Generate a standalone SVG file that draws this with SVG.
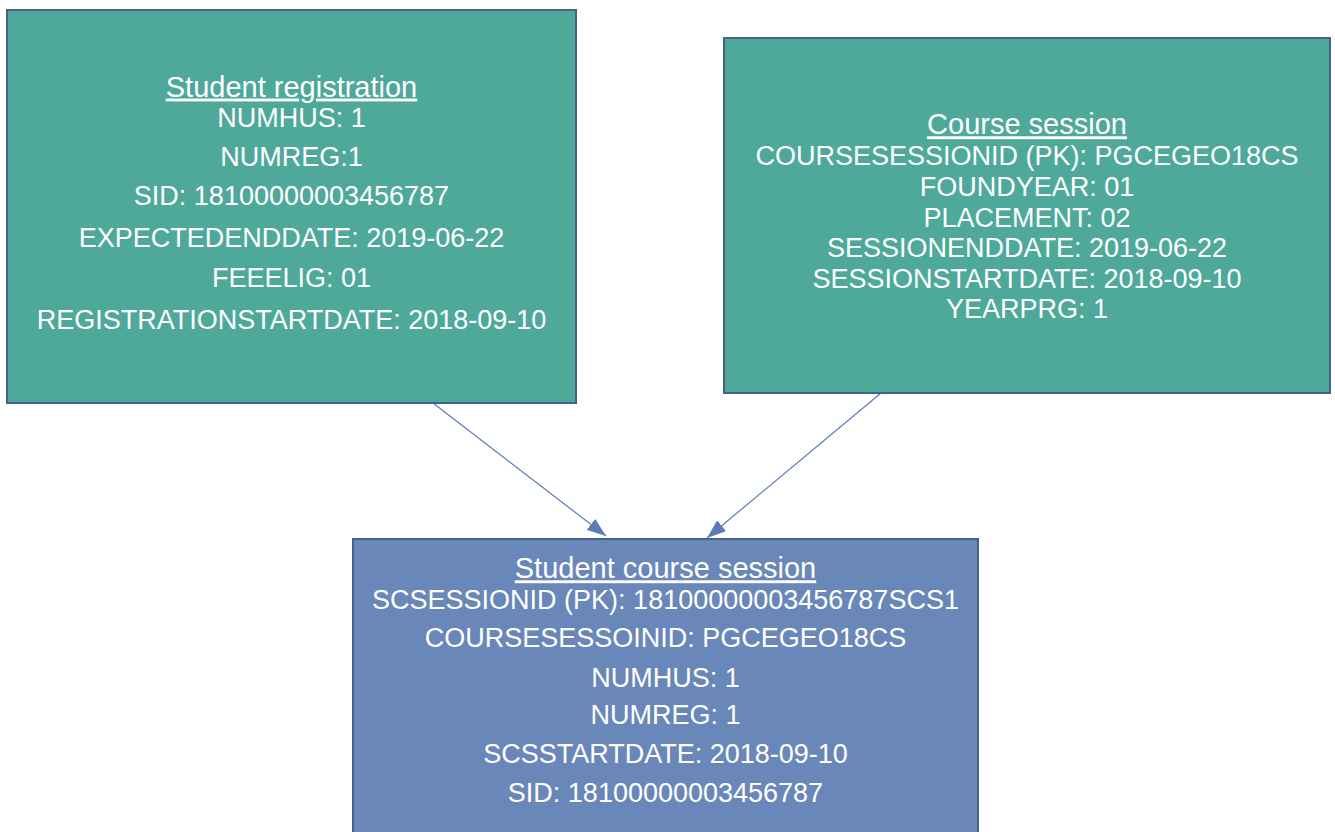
<svg xmlns="http://www.w3.org/2000/svg" width="1335" height="832" viewBox="0 0 1335 832">
<style>
.box{stroke:#46618a;stroke-width:2}
.teal{fill:#4ea99a}
.blue{fill:#6a87b9}
text{font-family:"Liberation Sans",Arial,sans-serif;fill:#ffffff;text-anchor:middle}
.t{font-size:29px;text-decoration:underline}
.b{font-size:27px}
.conn{stroke:#5b7bb6;stroke-width:1.2;fill:none}
</style>
<defs>
<marker id="arr" markerUnits="userSpaceOnUse" markerWidth="20" markerHeight="14" refX="19" refY="7" orient="auto">
<path d="M0,0 L19,7 L0,14 Z" fill="#5b7bb6"/>
</marker>
</defs>
<rect width="1335" height="832" fill="#ffffff"/>
<g id="connectors">
<line class="conn" x1="433" y1="403" x2="606" y2="536" marker-end="url(#arr)"/>
<line class="conn" x1="881" y1="393" x2="707" y2="538" marker-end="url(#arr)"/>
</g>
<g id="student-registration">
<rect class="box teal" x="7" y="10" width="569" height="393"/>
<text class="t" x="291.5" y="96.5">Student registration</text>
<text class="b" x="291.5" y="126.7">NUMHUS: 1</text>
<text class="b" x="291.5" y="165.7">NUMREG:1</text>
<text class="b" x="291.5" y="204.7">SID: 18100000003456787</text>
<text class="b" x="291.5" y="246.5">EXPECTEDENDDATE: 2019-06-22</text>
<text class="b" x="291.5" y="287.3">FEEELIG: 01</text>
<text class="b" x="291.5" y="329">REGISTRATIONSTARTDATE: 2018-09-10</text>
</g>
<g id="course-session">
<rect class="box teal" x="724" y="38" width="606" height="355"/>
<text class="t" x="1027" y="134.3">Course session</text>
<text class="b" x="1027" y="165">COURSESESSIONID (PK): PGCEGEO18CS</text>
<text class="b" x="1027" y="196">FOUNDYEAR: 01</text>
<text class="b" x="1027" y="226.7">PLACEMENT: 02</text>
<text class="b" x="1027" y="256.7">SESSIONENDDATE: 2019-06-22</text>
<text class="b" x="1027" y="287.5">SESSIONSTARTDATE: 2018-09-10</text>
<text class="b" x="1027" y="318.3">YEARPRG: 1</text>
</g>
<g id="student-course-session">
<rect class="box blue" x="353" y="539" width="625" height="300"/>
<text class="t" x="665.5" y="578.3">Student course session</text>
<text class="b" x="665.5" y="609">SCSESSIONID (PK): 18100000003456787SCS1</text>
<text class="b" x="665.5" y="647.3">COURSESESSOINID: PGCEGEO18CS</text>
<text class="b" x="665.5" y="686.7">NUMHUS: 1</text>
<text class="b" x="665.5" y="724.3">NUMREG: 1</text>
<text class="b" x="665.5" y="763.3">SCSSTARTDATE: 2018-09-10</text>
<text class="b" x="665.5" y="802.3">SID: 18100000003456787</text>
</g>
</svg>
